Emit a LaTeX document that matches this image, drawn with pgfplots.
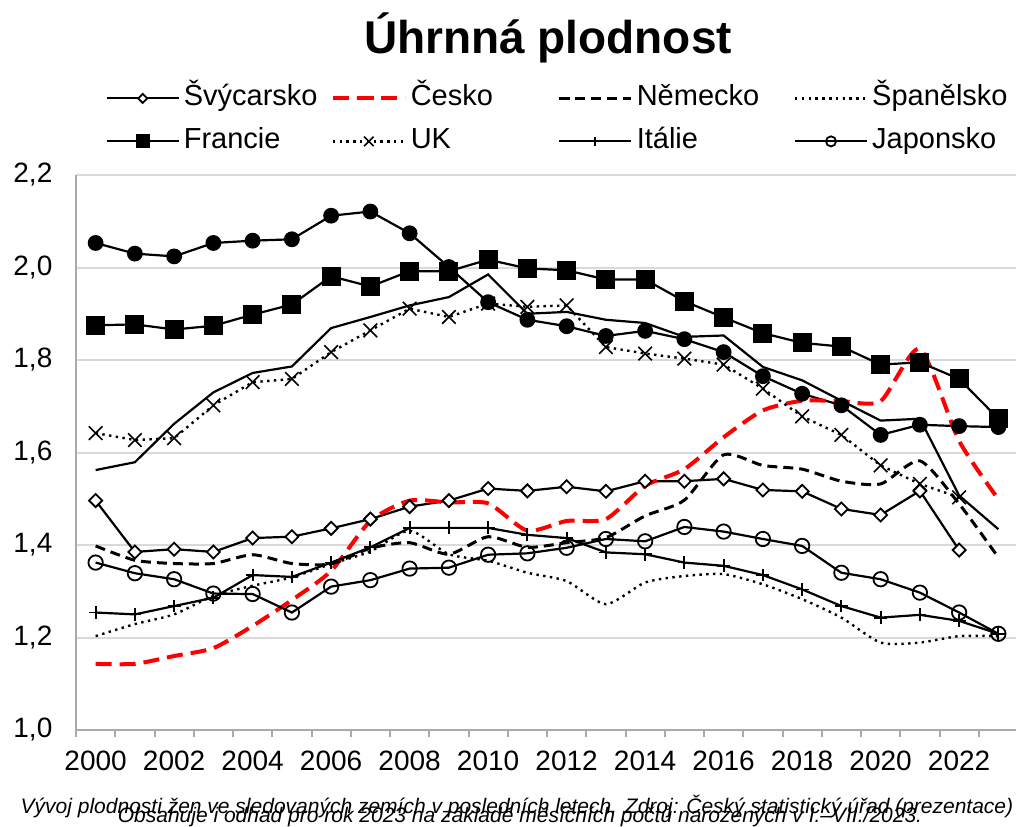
\documentclass[border=0pt]{standalone}
\usepackage{pgfplots}
\pgfplotsset{compat=1.18}
\usepackage{pgfplotstable}
\usepackage{fontspec}
\setmainfont{Liberation Sans}
\usetikzlibrary{calc}
\definecolor{gridgray}{RGB}{217,217,217}
\definecolor{axisgray}{RGB}{170,170,170}
\definecolor{czred}{RGB}{255,0,0}

\pgfplotstableread{
year sui cz ger esp fra uk ita jpn usa swe
2000 1.496 1.143 1.398 1.203 1.875 1.642 1.254 1.362 2.053 1.562
2001 1.385 1.143 1.367 1.229 1.877 1.627 1.250 1.339 2.030 1.579
2002 1.391 1.160 1.360 1.250 1.866 1.631 1.268 1.326 2.024 1.662
2003 1.385 1.177 1.360 1.290 1.874 1.702 1.286 1.295 2.053 1.730
2004 1.415 1.225 1.379 1.312 1.898 1.752 1.335 1.294 2.058 1.772
2005 1.418 1.281 1.360 1.330 1.920 1.759 1.331 1.254 2.061 1.786
2006 1.436 1.344 1.359 1.359 1.981 1.817 1.362 1.310 2.112 1.869
2007 1.456 1.452 1.393 1.386 1.959 1.864 1.395 1.324 2.121 1.893
2008 1.483 1.496 1.405 1.431 1.992 1.911 1.437 1.349 2.074 1.918
2009 1.496 1.492 1.380 1.380 1.992 1.893 1.437 1.351 2.001 1.936
2010 1.522 1.490 1.418 1.366 2.017 1.922 1.437 1.379 1.925 1.985
2011 1.517 1.431 1.395 1.340 1.998 1.915 1.422 1.382 1.887 1.900
2012 1.526 1.452 1.405 1.322 1.994 1.918 1.415 1.394 1.873 1.904
2013 1.516 1.456 1.416 1.272 1.974 1.828 1.384 1.413 1.852 1.887
2014 1.538 1.528 1.463 1.319 1.974 1.814 1.380 1.408 1.863 1.880
2015 1.538 1.564 1.497 1.333 1.927 1.803 1.362 1.439 1.845 1.850
2016 1.543 1.633 1.595 1.337 1.892 1.790 1.355 1.429 1.817 1.853
2017 1.519 1.691 1.572 1.315 1.858 1.738 1.335 1.413 1.765 1.785
2018 1.516 1.712 1.564 1.283 1.837 1.678 1.304 1.398 1.727 1.756
2019 1.478 1.711 1.538 1.243 1.829 1.638 1.268 1.340 1.702 1.712
2020 1.465 1.711 1.532 1.189 1.790 1.572 1.243 1.326 1.638 1.669
2021 1.517 1.824 1.582 1.189 1.795 1.532 1.249 1.297 1.660 1.673
2022 1.389 1.625 1.489 1.203 1.759 1.503 1.236 1.254 1.657 1.507
2023 nan   1.499 1.373 1.203 1.673 nan   1.208 1.208 1.655 1.434
}\data

\begin{document}
\begin{tikzpicture}
\begin{axis}[
  scale only axis, width=471pt, height=277.5pt,
  xmin=1999.5, xmax=2023.5, ymin=1.0, ymax=2.2,
  axis x line=bottom, axis y line=left,
  axis line style={draw=axisgray, line width=1pt, -},
  ytick={1,1.2,1.4,1.6,1.8,2,2.2},
  xtick={2000,2002,...,2022},
  minor xtick={1999.5,2000.5,...,2023.5},
  ymajorgrids, major grid style={gridgray, line width=1pt},
  tick align=outside, major tick length=0pt, minor tick length=3.5pt,
  minor tick style={axisgray, line width=1pt},
  ticklabel style={font=\fontsize{14}{16}\selectfont},
  /pgf/number format/assume math mode=true,
  yticklabel style={xshift=-8.3pt, /pgf/number format/.cd, fixed, fixed zerofill, precision=1, use comma},
  xticklabel style={yshift=-6.8pt, /pgf/number format/1000 sep={}},
  clip=false,
  legend columns=4,
  legend cell align=left,
  legend style={at={(0.031,1.0993)}, anchor=west, draw=none, fill=none, inner sep=0pt,
    column sep=0pt, row sep=4pt, font=\fontsize{14.5}{17}\selectfont,
    nodes={inner sep=2pt, text height=10.5pt, text depth=3pt}},
  legend image code/.code={\draw[mark repeat=2,mark phase=2,#1] plot coordinates {(0pt,0pt) (18pt,0pt) (36pt,0pt)};},
  legend image post style={every mark/.append style={scale=0.7}},
]
\coordinate (sw) at (rel axis cs:0,0);
% unlabelled series (no legend entry)
\addplot[black, line width=1.1pt, mark=*, mark size=3.4pt, forget plot] table[x=year, y=usa] {\data};
\addplot[black, line width=1.1pt, forget plot] table[x=year, y=swe] {\data};
% legend series
\addplot[black, line width=1.1pt, mark=square*, mark size=2.3pt, mark options={rotate=45, fill=white, line width=0.9pt}] table[x=year, y=sui] {\data};
\addlegendentry{\makebox[71.5pt][l]{Švýcarsko}}
\addplot[czred, line width=2pt, dash pattern=on 8pt off 4pt, smooth, tension=0.4] table[x=year, y=cz] {\data};
\addlegendentry{\makebox[71.5pt][l]{Česko}}
\addplot[black, line width=1.5pt, dash pattern=on 5pt off 3pt, smooth, tension=0.4] table[x=year, y=ger] {\data};
\addlegendentry{\makebox[76.5pt][l]{Německo}}
\addplot[black, line width=1.2pt, dash pattern=on 1.2pt off 2.2pt, smooth, tension=0.4] table[x=year, y=esp] {\data};
\addlegendentry{\makebox[71.5pt][l]{Španělsko}}
\addplot[black, line width=1.1pt, mark=square*, mark size=4.2pt] table[x=year, y=fra] {\data};
\addlegendentry{\makebox[71.5pt][l]{Francie}}
\addplot[black, line width=1.2pt, dash pattern=on 1.2pt off 2.2pt, mark=x, mark size=4.8pt, mark options={solid, line width=0.8pt}] table[x=year, y=uk] {\data};
\addlegendentry{\makebox[71.5pt][l]{UK}}
\addplot[black, line width=1.1pt, mark=+, mark size=3.2pt, mark options={line width=0.9pt}] table[x=year, y=ita] {\data};
\addlegendentry{\makebox[76.5pt][l]{Itálie}}
\addplot[black, line width=1.1pt, mark=o, mark size=3.6pt, mark options={fill=white, line width=0.9pt}] table[x=year, y=jpn] {\data};
\addlegendentry{\makebox[71.5pt][l]{Japonsko}}
\end{axis}
\node[anchor=base, font=\bfseries\fontsize{23}{26}\selectfont] at ($(sw)+(236pt,338.4pt)$) {Úhrnná plodnost};
\node[anchor=base, font=\itshape\fontsize{10.5}{12}\selectfont, inner sep=0pt] at ($(sw)+(220.5pt,-41.5pt)$) {Vývoj plodnosti žen ve sledovaných zemích v posledních letech. Zdroj: Český statistický úřad (prezentace)};
\node[anchor=base, font=\itshape\fontsize{10.5}{12}\selectfont, inner sep=0pt] at ($(sw)+(222pt,-46pt)$) {Obsahuje i odhad pro rok 2023 na základě měsíčních počtů narozených v I.–VII./2023.};
\pgfresetboundingbox
\path ($(sw)+(-38pt,-48pt)$) rectangle ++(508pt,413pt);
\end{tikzpicture}
\end{document}
